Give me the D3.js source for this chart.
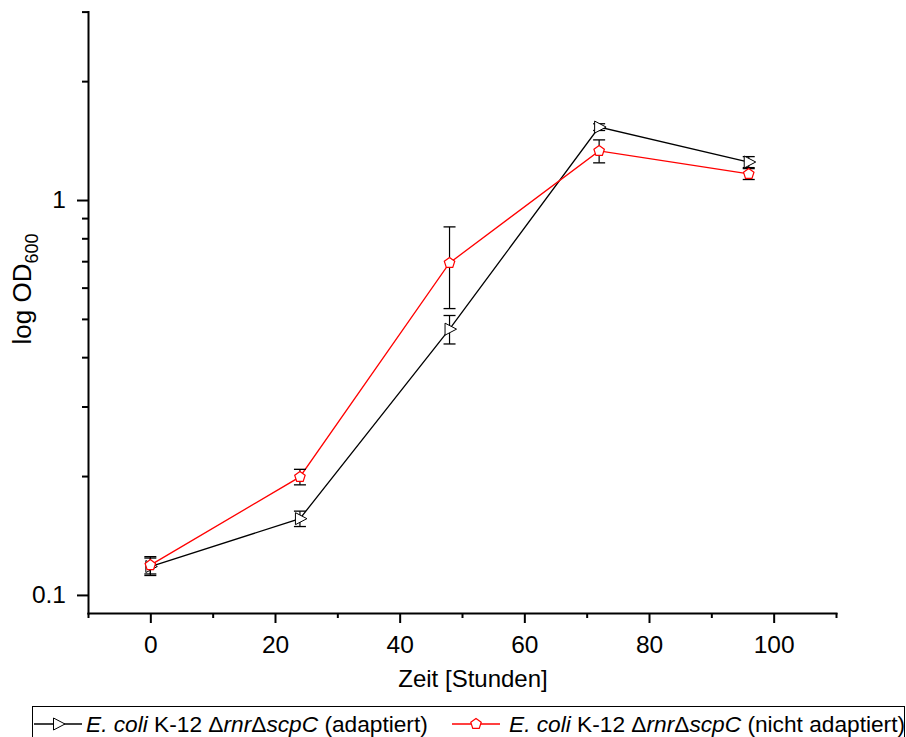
<!DOCTYPE html>
<meta charset="utf-8">
<style>
body { margin: 0; background: #fff; }
svg { display: block; font-family: "Liberation Sans", Arial, sans-serif; }
.axis path, .axis line { stroke: #000; stroke-width: 2; }
.axis text { font-size: 24.5px; fill: #000; }
</style>
<svg width="906" height="737"></svg>
<script src="https://cdnjs.cloudflare.com/ajax/libs/d3/7.8.5/d3.min.js"></script>
<script>

// time points (hours)
var hours = [0, 24, 48, 72, 96];

// OD600 means and standard deviations
var adaptedOD  = [0.118, 0.156, 0.471, 1.53, 1.248];
var adaptedSD  = [0.006, 0.007, 0.039, 0.03, 0.04];
var naiveOD    = [0.119, 0.199, 0.693, 1.331, 1.164];
var naiveSD    = [0.006, 0.009, 0.162, 0.089, 0.037];

var xTicks = [0, 20, 40, 60, 80, 100];
var xMinor = [-10, 10, 30, 50, 70, 90, 110];
var yTicks = [0.1, 1];
var yMinor = [0.2, 0.3, 0.4, 0.5, 0.6, 0.7, 0.8, 0.9, 2, 3];

var series = [
  {name: " (adaptiert)", od: adaptedOD, sd: adaptedSD, color: "#000", symbol: "tri"},
  {name: " (nicht adaptiert)", od: naiveOD, sd: naiveSD, color: "#ff0000", symbol: "pent"}
];

var svg = d3.select("svg");

var x = d3.scaleLinear().domain([-10, 110]).range([88, 836]);
var y = d3.scaleLog().domain([0.09, 3]).range([613, 11.6]);

// minor ticks first, then major axes on top
svg.append("g").attr("class", "axis")
    .attr("transform", "translate(0,613)")
    .call(d3.axisBottom(x).tickValues(xMinor).tickSize(5).tickFormat(""))
    .select(".domain").remove();
svg.append("g").attr("class", "axis")
    .attr("transform", "translate(88,0)")
    .call(d3.axisLeft(y).tickValues(yMinor).tickSize(6).tickFormat(""))
    .select(".domain").remove();

svg.append("g").attr("class", "axis")
    .attr("transform", "translate(0,613)")
    .call(d3.axisBottom(x).tickValues(xTicks).tickSize(10).tickSizeOuter(0).tickPadding(13));

svg.append("g").attr("class", "axis")
    .attr("transform", "translate(88,0)")
    .call(d3.axisLeft(y).tickValues(yTicks).tickSize(11).tickSizeOuter(0).tickPadding(11)
      .tickFormat(d3.format("")));

svg.selectAll(".domain").attr("stroke-linecap", "square");

// axis titles
svg.append("text")
    .attr("x", 473).attr("y", 687)
    .attr("text-anchor", "middle")
    .style("font-size", "24px")
    .text("Zeit [Stunden]");

var yt = svg.append("text")
    .attr("transform", "translate(31,289) rotate(-90)")
    .attr("text-anchor", "middle")
    .style("font-size", "26px");
yt.append("tspan").text("log OD");
yt.append("tspan").attr("dy", 7).style("font-size", "18px").text("600");

function marker(sel, s, cx, cy) {
  if (s.symbol == "tri") {
    sel.append("path")
      .attr("d", "M" + (cx - 4.5) + "," + (cy - 6) + "L" + (cx + 7) + "," + cy + "L" + (cx - 4.5) + "," + (cy + 6) + "Z")
      .attr("fill", "#fff").attr("stroke", s.color).attr("stroke-width", 1);
  } else {
    var pts = d3.range(5).map(function(i) {
      var a = -Math.PI / 2 + i * 2 * Math.PI / 5;
      return [cx + 5.5 * Math.cos(a), cy + 5.5 * Math.sin(a)];
    });
    sel.append("path")
      .attr("d", "M" + pts.join("L") + "Z")
      .attr("fill", "#fff").attr("stroke", s.color).attr("stroke-width", 1.2);
  }
}

var line = d3.line()
    .x(function(d) { return x(d[0]); })
    .y(function(d) { return y(d[1]); });

series.forEach(function(s) {
  var pts = hours.map(function(h, i) { return [h, s.od[i], s.sd[i]]; });
  var g = svg.append("g");

  g.append("path")
      .datum(pts)
      .attr("d", line)
      .attr("fill", "none")
      .attr("stroke", s.color)
      .attr("stroke-width", 1.3);

  // error bars (black for both series)
  pts.forEach(function(p) {
    var cx = x(p[0]), y0 = y(p[1] + p[2]), y1 = y(p[1] - p[2]);
    g.append("line").attr("x1", cx).attr("x2", cx).attr("y1", y0).attr("y2", y1)
      .attr("stroke", "#000").attr("stroke-width", 1.2);
    [y0, y1].forEach(function(yy) {
      g.append("line").attr("x1", cx - 6).attr("x2", cx + 6).attr("y1", yy).attr("y2", yy)
        .attr("stroke", "#000").attr("stroke-width", 1.3);
    });
  });

  pts.forEach(function(p) { marker(g, s, x(p[0]), y(p[1])); });
});

// legend
svg.append("rect")
    .attr("x", 32.5).attr("y", 706.5)
    .attr("width", 872).attr("height", 40)
    .attr("fill", "none").attr("stroke", "#000").attr("stroke-width", 1);

var legendX = [34, 452];
var legendTextX = [86, 509];
series.forEach(function(s, i) {
  var lg = svg.append("g");
  var lx = legendX[i];
  lg.append("line").attr("x1", lx).attr("x2", lx + 48).attr("y1", 724).attr("y2", 724)
    .attr("stroke", s.color).attr("stroke-width", 1.3);
  marker(lg, s, lx + 24, 724);
  var t = lg.append("text").attr("x", legendTextX[i]).attr("y", 732).style("font-size", "22.7px");
  t.append("tspan").style("font-style", "italic").text("E. coli");
  t.append("tspan").text(" K-12 \u0394");
  t.append("tspan").style("font-style", "italic").text("rnr");
  t.append("tspan").text("\u0394");
  t.append("tspan").style("font-style", "italic").text("scpC");
  t.append("tspan").text(s.name);
});

</script>
